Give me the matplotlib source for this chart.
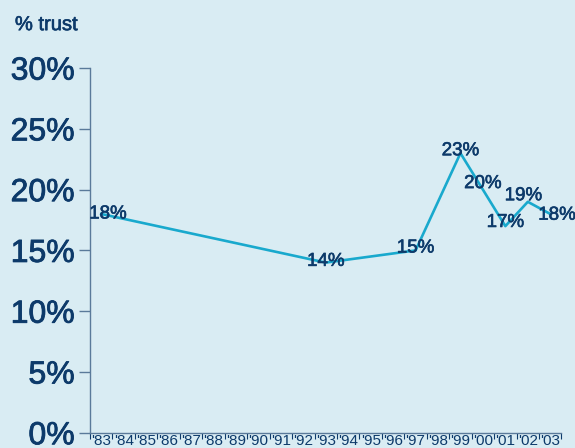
import numpy as np
import matplotlib.pyplot as plt
import matplotlib.patheffects as pe

plt.rcParams['font.family'] = ['Liberation Sans', 'DejaVu Sans']

years = ["'83", "'84", "'85", "'86", "'87", "'88", "'89", "'90", "'91", "'92",
         "'93", "'94", "'95", "'96", "'97", "'98", "'99", "'00", "'01", "'02", "'03"]
survey_years = ["'83", "'93", "'97", "'99", "'00", "'01", "'02", "'03"]
trust = [18, 14, 15, 23, 20, 17, 19, 18]
y_ticks = [0, 5, 10, 15, 20, 25, 30]

bg = '#d9ecf3'
navy = '#0d3a6a'
line_col = '#19a9cd'
# regular weight thickened slightly, closer to the medium face in the original
thick = [pe.withStroke(linewidth=0.45, foreground=navy)]

fig = plt.figure(figsize=(5.75, 4.48), dpi=100, facecolor=bg)
ax = fig.add_axes([0.1565, 0.034, 0.82, 0.814])
ax.set_facecolor(bg)

xs = [years.index(y) for y in survey_years]
ax.plot(xs, trust, color=line_col, lw=1.9, zorder=2)

label_offsets = [(0.3, 0), (0, 0.1), (0, 0.2), (0, 0.2), (0, 0.5), (0, 0.3), (-0.2, 0.5), (0.3, -0.1)]
for x, v, (dx, dy) in zip(xs, trust, label_offsets):
    ax.text(x + dx, v + dy, f'{v}%', ha='center', va='center', fontsize=13.5,
            color=navy, zorder=3, path_effects=thick)

ax.set_xlim(-0.5, len(years) - 0.5)
ax.set_ylim(0, 30)
ax.set_xticks(range(len(years)))
ax.set_xticklabels(years, fontsize=11, color=navy,
                   family=['Liberation Sans Narrow', 'Liberation Sans'])
ax.set_xticks(np.arange(-0.5, len(years), 1), minor=True)
ax.tick_params(axis='x', which='major', length=0, pad=1)
ax.tick_params(axis='x', which='minor', length=4, color=navy, width=0.8)

ax.set_yticks(y_ticks)
ax.set_yticklabels([f'{t}%' for t in y_ticks], fontsize=23, color=navy)
for lab in ax.get_yticklabels():
    lab.set_path_effects([pe.withStroke(linewidth=0.6, foreground=navy)])
ax.tick_params(axis='y', length=8, color='#5a7a9a', width=1, pad=3)

for s in ['top', 'right']:
    ax.spines[s].set_visible(False)
ax.spines['left'].set_color('#5a7a9a')
ax.spines['bottom'].set_color('#5a7a9a')
ax.spines['left'].set_linewidth(1)
ax.spines['bottom'].set_linewidth(1)

fig.text(0.026, 0.945, '% trust', fontsize=14.5, color=navy, ha='left', va='center',
         path_effects=thick)

fig.savefig('out.png', dpi=100, facecolor=bg)
